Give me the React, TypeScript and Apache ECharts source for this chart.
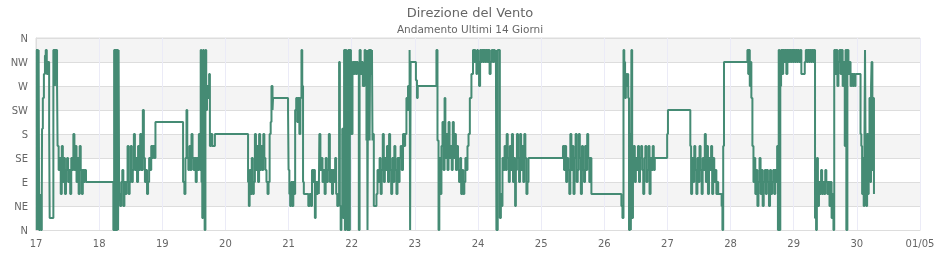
import React, { useEffect, useRef } from "react";
import * as echarts from "echarts";

// Direction labels on the y axis (degrees 0..360, every 45°)
const yLabels = ["N", "NE", "E", "SE", "S", "SW", "W", "NW", "N"];
// Day labels along the x axis (hours 0..336, every 24h)
const xLabels = ["17", "18", "19", "20", "21", "22", "23", "24", "25", "26", "27", "28", "29", "30", "01/05"];

// [hour of day, wind direction in degrees] for each day
const d17: [number, number][] = [
  [0.0, 337.5], [0.3, 0], [0.5, 337.5], [0.8, 0], [1.0, 337.5], [1.2, 0], [1.5, 22.5], [1.7, 67.5], [1.9, 0], [2.2, 67.5],
  [2.3, 190], [2.6, 247.5], [3.0, 292.5], [3.4, 327], [3.7, 337.5], [4.1, 292.5], [4.5, 315], [5.0, 190], [5.2, 22.5],
  [6.6, 337.5], [7.2, 270], [7.4, 337.5], [8.0, 270], [8.2, 157.5], [8.6, 112.5], [9.0, 135], [9.4, 67.5], [9.8, 157.5],
  [10.2, 90], [10.6, 135], [11.0, 67.5], [11.4, 112.5], [11.8, 135], [12.2, 90], [12.6, 112.5], [13.0, 67.5], [13.4, 135],
  [13.8, 112.5], [14.2, 180], [14.6, 112.5], [15.0, 157.5], [15.4, 90], [15.8, 135], [16.2, 67.5], [16.6, 157.5],
  [17.0, 112.5], [17.4, 67.5], [17.8, 112.5], [18.2, 90], [18.6, 112.5], [19.0, 90],
];
const d18: [number, number][] = [
  [5.4, 0], [5.7, 337.5], [6.0, 0], [6.3, 337.5], [6.6, 0], [6.9, 337.5], [7.2, 0], [7.4, 337.5], [7.6, 67.5], [8.0, 45],
  [8.4, 90], [8.8, 112.5], [9.2, 45], [9.6, 90], [10.0, 67.5], [10.4, 90], [10.8, 157.5], [11.2, 67.5], [11.6, 90],
  [12.0, 157.5], [12.4, 90], [12.8, 112.5], [13.2, 180], [13.6, 112.5], [14.0, 135], [14.4, 90], [14.8, 157.5],
  [15.2, 112.5], [15.6, 180], [16.0, 112.5], [16.6, 225], [17.0, 135], [17.4, 90], [17.8, 112.5], [18.2, 67.5],
  [18.6, 90], [19.0, 135], [19.4, 112.5], [19.8, 157.5], [20.2, 135], [20.6, 157.5], [21.0, 135], [21.4, 202.5],
];
const d19: [number, number][] = [
  [7.9, 90], [8.4, 67.5], [8.8, 135], [9.2, 225], [9.5, 135], [9.9, 112.5], [10.3, 157.5], [10.7, 112.5], [11.1, 180],
  [11.5, 135], [11.9, 112.5], [12.3, 135], [12.7, 90], [13.1, 135], [13.5, 112.5], [13.9, 180], [14.3, 112.5],
  [14.6, 337.5], [14.9, 90], [15.2, 22.5], [15.5, 337.5], [15.8, 45], [16.1, 0], [16.4, 337.5], [16.7, 225], [17.0, 270],
  [17.4, 247.5], [17.8, 292.5], [18.1, 157.5], [18.6, 180], [19.0, 157.5], [20.0, 180],
];
const d20: [number, number][] = [
  [8.6, 90], [8.9, 45], [9.2, 112.5], [9.6, 67.5], [10.0, 135], [10.4, 67.5], [10.8, 90], [11.2, 180], [11.6, 112.5],
  [12.0, 157.5], [12.4, 90], [12.8, 180], [13.2, 112.5], [13.6, 157.5], [14.0, 112.5], [14.4, 180], [14.8, 135],
  [15.2, 112.5], [15.6, 90], [16.0, 67.5], [16.4, 90], [16.8, 180], [17.2, 202.5], [17.5, 270], [17.9, 225], [18.1, 247.5],
  [23.8, 225],
];
const d21: [number, number][] = [
  [0.0, 112.5], [0.3, 67.5], [0.6, 45], [1.0, 90], [1.4, 45], [1.8, 90], [2.2, 67.5], [2.5, 225], [2.9, 247.5],
  [3.3, 202.5], [3.7, 247.5], [4.1, 180], [4.5, 247.5], [4.9, 337.5], [5.2, 270], [5.5, 90], [5.8, 67.5], [7.5, 45],
  [8.0, 67.5], [8.5, 45], [8.9, 112.5], [9.3, 90], [9.7, 112.5], [10.0, 22.5], [10.3, 90], [10.7, 67.5], [11.1, 90],
  [11.5, 67.5], [11.7, 180], [12.1, 112.5], [12.5, 135], [12.9, 90], [13.3, 112.5], [13.7, 67.5], [14.1, 135], [14.5, 90],
  [14.9, 112.5], [15.3, 180], [15.7, 90], [16.1, 112.5], [16.5, 67.5], [16.9, 112.5], [17.3, 90], [17.7, 135],
  [18.1, 67.5], [18.5, 45], [18.9, 67.5], [19.2, 315], [19.5, 45], [19.8, 0], [20.1, 45], [20.4, 190], [20.7, 22.5],
  [21.1, 337.5], [21.4, 0], [21.7, 337.5], [22.0, 45], [22.3, 0], [22.7, 337.5], [23.0, 0], [23.3, 337.5], [23.7, 180],
];
const d22: [number, number][] = [
  [0.0, 180], [0.3, 315], [0.7, 292.5], [1.1, 315], [1.5, 292.5], [1.9, 315], [2.3, 292.5], [2.7, 0], [3.0, 337.5],
  [3.4, 292.5], [3.8, 315], [4.2, 270], [4.9, 337.5], [5.2, 292.5], [5.6, 168], [5.8, 337.5], [6.0, 0], [6.2, 315],
  [6.5, 337.5], [6.8, 168], [7.0, 337.5], [7.4, 292.5], [7.7, 337.5], [7.9, 168], [8.1, 180], [8.4, 45], [9.4, 67.5],
  [9.8, 112.5], [10.2, 90], [10.6, 135], [11.0, 67.5], [11.4, 112.5], [11.8, 180], [12.2, 90], [12.6, 135], [13.0, 112.5],
  [13.4, 157.5], [13.8, 90], [14.2, 180], [14.6, 112.5], [15.0, 67.5], [15.4, 135], [15.8, 90], [16.2, 157.5],
  [16.6, 112.5], [17.0, 67.5], [17.4, 135], [17.8, 90], [18.2, 135], [18.6, 157.5], [19.0, 112.5], [19.5, 180],
  [19.9, 157.5], [20.3, 180], [20.8, 247.5], [21.1, 225], [21.4, 270], [21.7, 225], [22.0, 337.5], [22.2, 0], [22.4, 315],
];
const d23: [number, number][] = [
  [0.4, 281], [0.8, 247.5], [1.1, 270], [8.2, 337.5], [8.6, 168], [9.0, 0], [9.3, 135], [9.7, 67.5], [10.1, 157.5],
  [10.5, 202.5], [10.9, 112.5], [11.3, 247.5], [11.6, 135], [12.0, 180], [12.4, 112.5], [12.8, 202.5], [13.2, 135],
  [13.6, 157.5], [14.0, 112.5], [14.4, 202.5], [14.8, 135], [15.2, 180], [15.6, 112.5], [16.0, 157.5], [16.4, 112.5],
  [16.8, 90], [17.2, 135], [17.6, 67.5], [18.0, 112.5], [18.4, 67.5], [18.8, 90], [19.2, 135], [19.6, 112.5],
  [20.0, 157.5], [20.4, 180], [20.9, 247.5], [21.5, 292.5], [22.1, 337.5], [22.4, 315], [22.7, 337.5], [23.0, 315],
  [23.4, 292.5], [23.7, 337.5],
];
const d24: [number, number][] = [
  [0.0, 315], [0.4, 270], [0.8, 337.5], [1.2, 315], [1.6, 337.5], [2.0, 315], [2.4, 337.5], [2.8, 315], [3.2, 337.5],
  [3.6, 315], [4.0, 337.5], [4.4, 292.5], [4.8, 315], [5.2, 337.5], [5.6, 315], [6.0, 337.5], [6.4, 315], [6.8, 337.5],
  [7.0, 0], [7.5, 337.5], [8.3, 22.5], [8.7, 67.5], [9.0, 45], [9.3, 135], [9.7, 112.5], [10.1, 157.5], [10.5, 112.5],
  [10.9, 180], [11.3, 135], [11.7, 90], [12.1, 157.5], [12.5, 112.5], [12.9, 180], [13.3, 90], [13.7, 135], [14.1, 45],
  [14.4, 112.5], [14.8, 180], [15.2, 135], [15.6, 90], [16.0, 180], [16.4, 112.5], [16.8, 157.5], [17.2, 90],
  [17.6, 180], [18.0, 135], [18.4, 67.5], [18.8, 90], [19.2, 135],
];
const d25: [number, number][] = [
  [8.3, 157.5], [8.7, 112.5], [9.1, 157.5], [9.5, 90], [9.9, 135], [10.3, 112.5], [10.7, 67.5], [11.1, 180],
  [11.5, 112.5], [11.9, 157.5], [12.3, 67.5], [12.7, 135], [13.1, 180], [13.5, 90], [13.9, 112.5], [14.3, 180],
  [14.7, 135], [15.1, 67.5], [15.5, 157.5], [15.9, 112.5], [16.3, 90], [16.7, 157.5], [17.1, 112.5], [17.5, 180],
  [17.9, 135], [18.3, 90], [18.7, 135], [19.1, 67.5],
];
const d26: [number, number][] = [
  [6.5, 45], [6.9, 22.5], [7.3, 337.5], [7.6, 315], [7.9, 247.5], [8.2, 292.5], [8.5, 270], [8.8, 292.5], [9.1, 247.5],
  [9.4, 0], [9.8, 180], [10.1, 0], [10.3, 337.5], [10.6, 22.5], [10.9, 112.5], [11.2, 157.5], [11.6, 90], [12.0, 135],
  [12.4, 112.5], [12.8, 157.5], [13.2, 90], [13.6, 135], [14.0, 157.5], [14.4, 112.5], [14.8, 67.5], [15.2, 135],
  [15.6, 157.5], [16.0, 90], [16.4, 112.5], [16.8, 157.5], [17.2, 67.5], [17.6, 135], [18.0, 112.5], [18.4, 157.5],
  [18.8, 112.5], [19.2, 135], [23.9, 180],
];
const d27: [number, number][] = [
  [0.2, 225], [8.7, 157.5], [9.0, 67.5], [9.4, 135], [9.8, 90], [10.2, 157.5], [10.6, 112.5], [11.0, 67.5], [11.4, 135],
  [11.8, 90], [12.2, 157.5], [12.6, 112.5], [13.0, 67.5], [13.4, 135], [13.8, 112.5], [14.2, 180], [14.6, 90],
  [15.0, 157.5], [15.4, 67.5], [15.8, 135], [16.2, 112.5], [16.6, 157.5], [17.0, 67.5], [17.4, 135], [17.8, 90],
  [18.2, 112.5], [18.6, 67.5], [19.0, 90], [19.3, 67.5], [20.6, 45], [20.9, 0], [21.2, 157.5], [21.5, 315],
];
const d28: [number, number][] = [
  [6.4, 337.5], [6.7, 292.5], [7.0, 337.5], [7.3, 270], [7.6, 315], [7.9, 247.5], [8.3, 157.5], [8.7, 90], [9.0, 135],
  [9.4, 67.5], [9.8, 112.5], [10.2, 45], [10.6, 90], [11.0, 135], [11.4, 67.5], [11.8, 112.5], [12.2, 45], [12.6, 90],
  [13.0, 112.5], [13.4, 67.5], [13.8, 112.5], [14.2, 90], [14.6, 45], [15.0, 112.5], [15.4, 67.5], [15.8, 90],
  [16.2, 112.5], [16.6, 67.5], [17.0, 112.5], [17.4, 90], [17.7, 157.5], [18.0, 0], [18.3, 337.5], [18.6, 0], [18.9, 270],
  [19.2, 337.5], [19.6, 292.5], [20.0, 337.5], [20.4, 315], [20.8, 337.5], [21.2, 292.5], [21.6, 337.5], [22.0, 315],
  [22.4, 337.5], [22.8, 315], [23.2, 337.5], [23.6, 315],
];
const d29: [number, number][] = [
  [0.0, 337.5], [0.4, 315], [0.8, 337.5], [1.2, 315], [1.6, 337.5], [2.0, 315], [2.5, 337.5], [2.9, 292.5], [4.2, 315],
  [4.6, 337.5], [5.0, 315], [5.4, 337.5], [5.8, 315], [6.2, 337.5], [6.6, 315], [7.0, 337.5], [7.4, 315], [7.8, 337.5],
  [8.1, 22.5], [8.5, 0], [8.8, 135], [9.2, 45], [9.6, 90], [10.0, 67.5], [10.4, 112.5], [10.8, 67.5], [11.2, 90],
  [11.6, 67.5], [12.0, 112.5], [12.4, 90], [12.8, 67.5], [13.2, 90], [13.6, 45], [14.0, 90], [14.4, 22.5], [14.8, 67.5],
  [15.1, 0], [15.4, 337.5], [15.8, 292.5], [16.2, 337.5], [16.6, 270], [17.0, 315], [17.4, 337.5], [17.8, 292.5],
  [18.2, 337.5], [18.6, 270], [19.0, 315], [19.4, 157.5], [19.7, 337.5], [20.0, 0], [20.4, 337.5], [20.8, 292.5],
  [21.2, 315], [21.6, 270], [22.0, 292.5], [22.4, 270], [22.8, 292.5], [23.2, 270], [23.5, 292.5],
];
const d30: [number, number][] = [
  [1.4, 180], [1.7, 157.5], [2.0, 67.5], [2.3, 135], [2.6, 45], [2.9, 180], [3.1, 337.5], [3.3, 157.5], [3.6, 45],
  [3.9, 180], [4.2, 67.5], [4.5, 135], [4.8, 247.5], [5.1, 90], [5.4, 270], [5.6, 315], [5.9, 112.5], [6.2, 247.5],
  [6.5, 67.5],
];

const days: [number, [number, number][]][] = [
  [0, d17], [1, d18], [2, d19], [3, d20], [4, d21], [5, d22], [6, d23],
  [7, d24], [8, d25], [9, d26], [10, d27], [11, d28], [12, d29], [13, d30],
];

export default function App() {
  const ref = useRef<HTMLDivElement>(null);
  useEffect(() => {
    if (!ref.current) return;
    const chart = echarts.init(ref.current, undefined, { renderer: "svg" });
    const data: [number, number][] = [];
    days.forEach(([i, arr]) => arr.forEach(([h, v]) => data.push([i * 24 + h, v])));
    const labelStyle = { color: "#666", fontSize: 10, fontFamily: "DejaVu Sans" };
    chart.setOption({
      animation: false,
      textStyle: { fontFamily: "DejaVu Sans" },
      title: {
        text: "Direzione del Vento",
        subtext: "Andamento Ultimi 14 Giorni",
        left: "center",
        top: 1,
        itemGap: 4,
        textStyle: { color: "#666", fontSize: 13, fontWeight: "normal", fontFamily: "DejaVu Sans" },
        subtextStyle: { color: "#666", fontSize: 10.5, fontFamily: "DejaVu Sans" },
      },
      grid: { left: 36, right: 20, top: 38, bottom: 30, show: true, borderColor: "#ddd", borderWidth: 1, backgroundColor: "transparent" },
      xAxis: {
        type: "value",
        min: 0,
        max: 336,
        interval: 24,
        axisLine: { show: true, lineStyle: { color: "#ddd" } },
        axisTick: { show: false },
        axisLabel: { ...labelStyle, margin: 8, formatter: (v: number) => xLabels[Math.round(v / 24)] },
        splitLine: { show: true, lineStyle: { color: "#ebebf7", width: 1 } },
      },
      yAxis: {
        type: "value",
        min: 0,
        max: 360,
        interval: 45,
        axisLine: { show: true, lineStyle: { color: "#ddd" } },
        axisTick: { show: false },
        axisLabel: { ...labelStyle, margin: 8, formatter: (v: number) => yLabels[Math.round(v / 45)] },
        splitLine: { show: true, lineStyle: { color: "#dddddd", width: 1 } },
        splitArea: { show: true, areaStyle: { color: ["#ffffff", "#f4f4f4"] } },
      },
      series: [
        {
          type: "line",
          step: "end",
          data,
          showSymbol: false,
          symbol: "none",
          lineStyle: { color: "#458B74", width: 2 },
        },
      ],
    });
    return () => chart.dispose();
  }, []);
  return <div ref={ref} style={{ position: "fixed", left: 0, top: 0, width: 940, height: 260 }} />;
}
